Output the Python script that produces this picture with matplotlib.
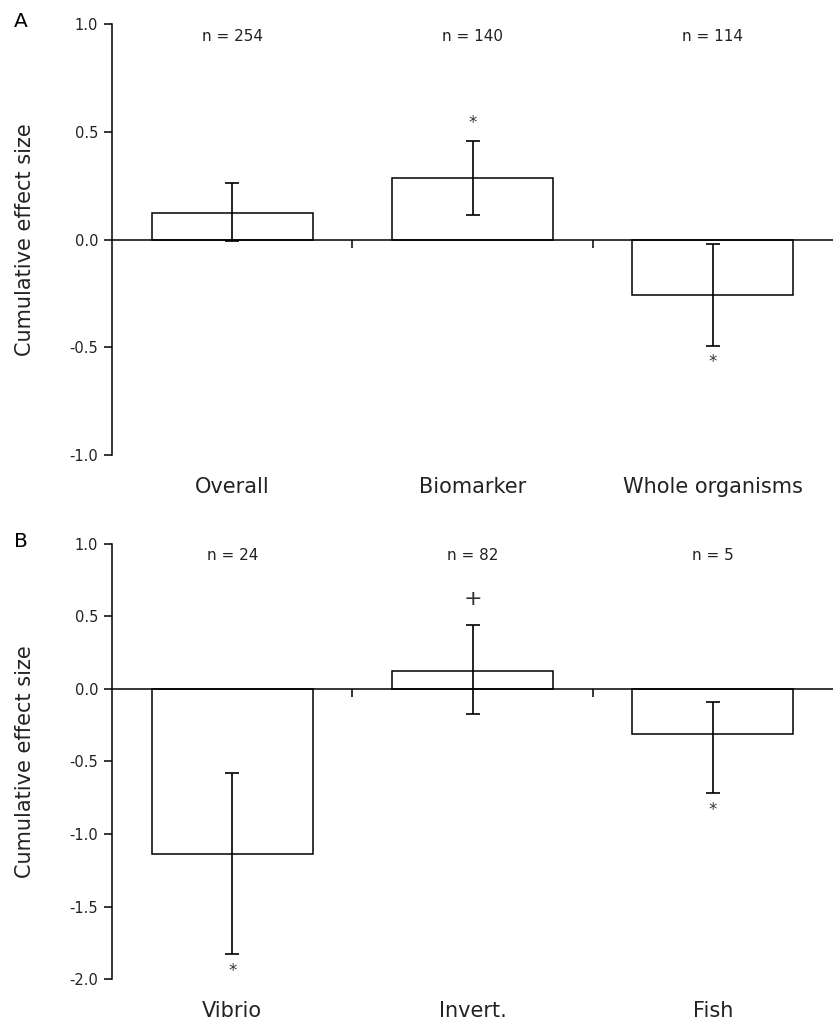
import numpy as np
import matplotlib.pyplot as plt

# panel A
cats_a = ["Overall", "Biomarker", "Whole organisms"]
n_a = ["n = 254", "n = 140", "n = 114"]
mean_a = [0.125, 0.286, -0.255]
lo_a = [-0.005, 0.115, -0.493]
hi_a = [0.26, 0.458, -0.019]
sig_a = ["", "*", "*"]

# panel B
cats_b = ["Vibrio", "Invert.", "Fish"]
n_b = ["n = 24", "n = 82", "n = 5"]
mean_b = [-1.135, 0.121, -0.31]
lo_b = [-1.825, -0.17, -0.717]
hi_b = [-0.58, 0.44, -0.088]
sig_b = ["*", "+", "*"]

plt.rcParams['font.family'] = ['DejaVu Sans']
fig = plt.figure(figsize=(8.33, 10.25), dpi=100)


def panel(rect, cats, ns, mean, lo, hi, sig, ylim, yticks, letter, ny):
	ax = fig.add_axes(rect)
	x = np.arange(len(cats))
	mean = np.array(mean)
	yerr = [mean - np.array(lo), np.array(hi) - mean]
	ax.bar(x, mean, width=0.67, color="white", edgecolor="black", linewidth=1.1, zorder=2)
	ax.errorbar(x, mean, yerr=yerr, fmt="none", ecolor="black", elinewidth=1.2,
		capsize=5, capthick=1.2, zorder=3)
	ax.set_xlim(-0.5, len(cats) - 0.5)
	ax.set_ylim(*ylim)
	ax.set_yticks(yticks)
	ax.set_yticklabels(["%.1f" % t for t in yticks], fontsize=10.5, color="#222222")
	ax.tick_params(axis="y", length=6, width=1.1, direction="out", pad=4)
	ax.spines["top"].set_visible(False)
	ax.spines["right"].set_visible(False)
	ax.spines["left"].set_linewidth(1.1)
	ax.spines["bottom"].set_position(("data", 0))
	ax.spines["bottom"].set_linewidth(1.1)
	ax.spines["bottom"].set_zorder(4)
	ax.set_xticks(x[:-1] + 0.5)
	ax.set_xticklabels([])
	ax.tick_params(axis="x", length=6, width=1.1, direction="out")
	ax.set_ylabel("Cumulative effect size", fontsize=15, color="#222222")
	ax.yaxis.set_label_coords(-0.107, 0.5)
	for i in x:
		ax.text(i, ny, ns[i], ha="center", va="center", fontsize=11, color="#222222")
		ax.annotate(cats[i], xy=(i, 0), xycoords=("data", "axes fraction"),
			xytext=(0, -23), textcoords="offset points", ha="center", va="center",
			fontsize=15, color="#222222")
		if sig[i]:
			if mean[i] > 0:
				y, off = hi[i], 13
			else:
				y, off = lo[i], -12
			fs = 16 if sig[i] == "+" else 12
			if sig[i] == "+":
				off = 19
			ax.annotate(sig[i], xy=(i, y), xytext=(0, off), textcoords="offset points",
				ha="center", va="center", fontsize=fs, color="#333333")
	fig.text(21 / 833, rect[1] + rect[3] + 2 / 1025, letter, fontsize=14.5, ha="center", va="center")
	return ax


panel([0.1345, 0.556, 0.8655, 0.4206], cats_a, n_a, mean_a, lo_a, hi_a, sig_a,
	(-1, 1), [-1.0, -0.5, 0.0, 0.5, 1.0], "A", 0.94)
panel([0.1345, 0.0446, 0.8655, 0.425], cats_b, n_b, mean_b, lo_b, hi_b, sig_b,
	(-2, 1), [-2.0, -1.5, -1.0, -0.5, 0.0, 0.5, 1.0], "B", 0.92)

plt.savefig("out.png", dpi=100)
